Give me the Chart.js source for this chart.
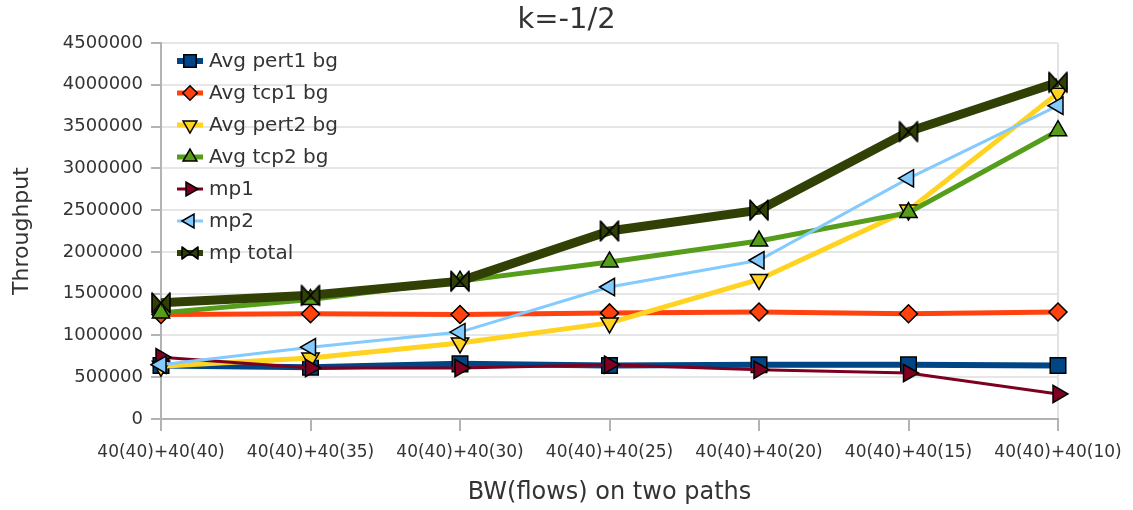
<!DOCTYPE html>
<html>
<head>
<meta charset="utf-8">
<script src="https://cdn.jsdelivr.net/npm/chart.js@4.4.1/dist/chart.umd.min.js"></script>
<style>
  body { margin: 0; background: #fff; }
  #wrap { width: 1133px; height: 510px; }
</style>
</head>
<body>
<div id="wrap"><canvas id="chart-one"></canvas></div>
<script>
// data
const categories = ['40(40)+40(40)', '40(40)+40(35)', '40(40)+40(30)', '40(40)+40(25)', '40(40)+40(20)', '40(40)+40(15)', '40(40)+40(10)'];
const seriesNames = ['Avg pert1 bg', 'Avg tcp1 bg', 'Avg pert2 bg', 'Avg tcp2 bg', 'mp1', 'mp2', 'mp total'];
const pert1 = [640000, 620000, 660000, 640000, 650000, 650000, 640000];
const tcp1 = [1250000, 1260000, 1250000, 1270000, 1280000, 1260000, 1280000];
const pert2 = [630000, 730000, 910000, 1150000, 1670000, 2500000, 3900000];
const tcp2 = [1270000, 1430000, 1650000, 1880000, 2130000, 2470000, 3450000];
const mp1 = [740000, 610000, 610000, 650000, 590000, 550000, 300000];
const mp2 = [650000, 860000, 1040000, 1580000, 1900000, 2880000, 3750000];
const mpTotal = [1390000, 1480000, 1650000, 2250000, 2500000, 3440000, 4030000];
const yTicks = [0, 500000, 1000000, 1500000, 2000000, 2500000, 3000000, 3500000, 4000000, 4500000];

Chart.defaults.font.family = 'DejaVu Sans';
Chart.defaults.color = '#333333';

function makeBowtie(color, w, h){
    const c = document.createElement('canvas');
    c.width = w; c.height = h;
    const g = c.getContext('2d');
    g.beginPath();
    g.moveTo(2, 2); g.lineTo(w - 2, h - 2); g.lineTo(w - 2, 2); g.lineTo(2, h - 2);
    g.closePath();
    g.fillStyle = color;
    g.fill();
    g.lineWidth = 1.6;
    g.strokeStyle = '#000';
    g.lineJoin = 'round';
    g.stroke();
    return c;
}

function series(i, values, color, width, style, rot, radius){
    return {
        label: seriesNames[i],
        data: values,
        borderColor: color,
        backgroundColor: color,
        borderWidth: width,
        pointStyle: style,
        pointRotation: rot,
        pointRadius: radius,
        pointHoverRadius: radius,
        pointBorderColor: '#000',
        pointBorderWidth: 1.5,
        tension: 0,
        order: 6 - i
    };
}

// legend drawn by hand: line + marker + text, like the original
const lineLegend = {
    id: 'lineLegend',
    afterDatasetsDraw(chart){
        const ctx = chart.ctx;
        const left = chart.chartArea.left;
        const top = chart.chartArea.top;
        ctx.save();
        chart.data.datasets.forEach((ds, i) => {
            const y = top + 18 + i * 32;
            ctx.strokeStyle = ds.borderColor;
            ctx.lineWidth = Math.min(ds.borderWidth, 6);
            ctx.beginPath();
            ctx.moveTo(left + 16, y);
            ctx.lineTo(left + 42, y);
            ctx.stroke();
            ctx.fillStyle = ds.backgroundColor;
            ctx.strokeStyle = '#000';
            ctx.lineWidth = 1.5;
            Chart.helpers.drawPoint(ctx, {
                pointStyle: ds.legendStyle || ds.pointStyle,
                rotation: ds.pointRotation,
                radius: ds.pointRadius * 0.8,
                borderWidth: 1.5
            }, left + 29, y);
            ctx.fillStyle = '#333333';
            ctx.font = '20px "DejaVu Sans"';
            ctx.textBaseline = 'middle';
            ctx.textAlign = 'left';
            ctx.fillText(ds.label, left + 48, y + 1);
        });
        ctx.restore();
    }
};

const totalSet = series(6, mpTotal, '#314004', 9, makeBowtie('#314004', 22, 24), 0, 11);
totalSet.legendStyle = makeBowtie('#314004', 20, 16);

const ctx = document.getElementById('chart-one');

const chart = new Chart(ctx, {
    type: 'line',
    data: {
        labels: categories,
        datasets: [
            series(0, pert1, '#004586', 6, 'rect', 0, 11),
            series(1, tcp1, '#ff420e', 5, 'rectRot', 0, 9),
            series(2, pert2, '#ffd320', 5, 'triangle', 180, 10),
            series(3, tcp2, '#579d1c', 5, 'triangle', 0, 10),
            series(4, mp1, '#7e0021', 3, 'triangle', 90, 10),
            series(5, mp2, '#83caff', 3, 'triangle', 270, 10),
            totalSet
        ]
    },
    options: {
        responsive: true,
        maintainAspectRatio: false,
        animation: false,
        layout: { padding: 0 },
        plugins: {
            legend: { display: false },
            tooltip: { enabled: false },
            title: {
                display: true,
                text: 'k=-1/2',
                color: '#333333',
                font: { size: 29, weight: 'normal' },
                padding: { top: 3, bottom: 5.2 }
            }
        },
        scales: {
            x: {
                grid: {
                    color: c => c.index === categories.length - 1 ? '#e3e3e3' : 'rgba(0,0,0,0)',
                    lineWidth: 2,
                    tickColor: '#b3b3b3',
                    tickLength: 12
                },
                border: { color: '#b3b3b3', width: 2 },
                ticks: {
                    autoSkip: false,
                    maxRotation: 0,
                    padding: 11,
                    color: '#333333',
                    font: { size: 17 }
                },
                title: {
                    display: true,
                    text: 'BW(flows) on two paths',
                    color: '#333333',
                    font: { size: 24 },
                    padding: { top: 0, bottom: 3 }
                },
                afterFit: s => { s.height = 91; }
            },
            y: {
                min: 0,
                max: 4500000,
                grid: {
                    color: '#e6e6e6',
                    lineWidth: 2,
                    tickColor: '#b3b3b3',
                    tickLength: 10
                },
                border: { color: '#b3b3b3', width: 2 },
                afterBuildTicks: s => { s.ticks = yTicks.map(v => ({ value: v })); },
                ticks: {
                    padding: 8,
                    color: '#333333',
                    font: { size: 18 },
                    callback: v => String(v)
                },
                title: {
                    display: true,
                    text: 'Throughput',
                    color: '#333333',
                    font: { size: 22 },
                    padding: { top: 9, bottom: 0 }
                },
                afterFit: s => { s.width = 161; }
            },
            // empty right-hand space so the plot ends where the original does
            spacer: {
                position: 'right',
                grid: { display: false },
                border: { display: false },
                ticks: { display: false },
                afterFit: s => { s.width = 75; }
            }
        }
    },
    plugins: [lineLegend]
});
</script>
</body>
</html>
